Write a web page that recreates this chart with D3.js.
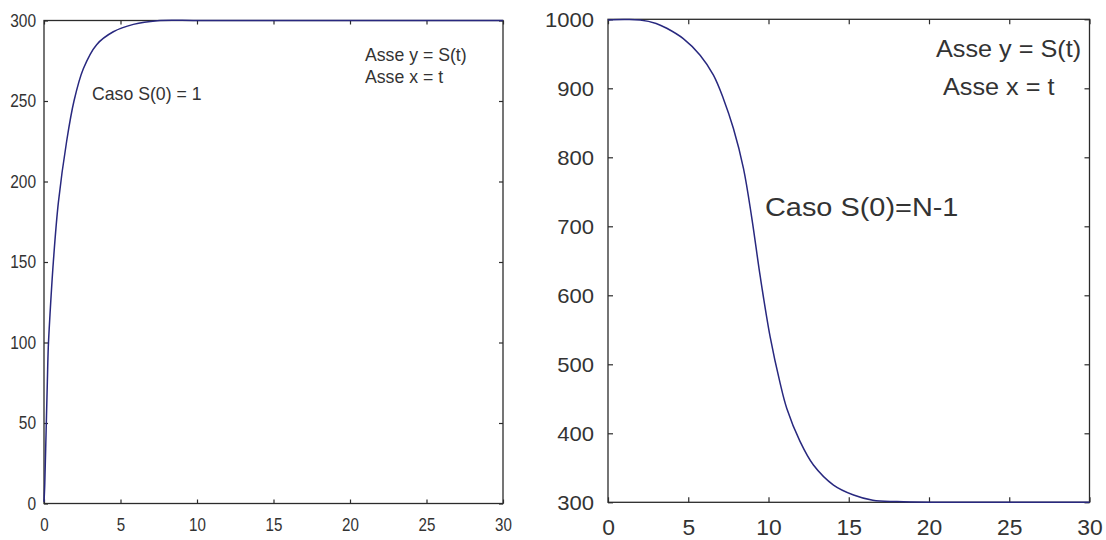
<!DOCTYPE html>
<html>
<head>
<meta charset="utf-8">
<script src="https://cdn.jsdelivr.net/npm/d3@7"></script>
<style>
  html, body { margin: 0; padding: 0; background: #fff; }
  svg { display: block; font-family: "Liberation Sans", Arial, Helvetica, sans-serif; }
  .axis path.domain { display: none; }
  .axis line { stroke: #2b2b2b; stroke-width: 1.2; }
  .axis text { fill: #333; }
</style>
</head>
<body>
<svg id="chart" width="1106" height="540"></svg>
<script>
// Time ticks shared by both panels
const xTicks = [0, 5, 10, 15, 20, 25, 30];

// Panel 1: S(t) with S(0) = 1
const tGrowth = [0, 0.05, 0.11, 0.22, 0.28, 0.39, 0.61, 0.94, 1.48, 1.96, 2.57, 3.44, 4.53, 5.84, 7.4, 10, 15, 20, 25, 30];
const sGrowth = [1, 12, 34, 76, 97, 117, 150, 187, 225, 250, 270, 285, 293, 297.6, 299.9, 300, 300, 300, 300, 300];
const yTicksGrowth = [0, 50, 100, 150, 200, 250, 300];

// Panel 2: S(t) with S(0) = N-1
const tDecay = [0, 1, 2, 3, 3.66, 4.69, 5.74, 6.57, 7.19, 7.81, 8.44, 8.96, 9.48, 10.1, 10.72, 11.14, 11.97, 12.8, 14.05, 15.3, 16.5, 18, 20, 25, 30];
const sDecay = [999, 999.6, 999, 994, 987, 972, 948, 919, 885, 842, 784, 712, 628, 540, 473, 436, 388, 354, 325, 310.6, 303, 301, 300, 300, 300];
const yTicksDecay = [300, 400, 500, 600, 700, 800, 900, 1000];

const svg = d3.select("#chart");

// Narrow or widen a text run horizontally by factor s
function stretch(sel, s) {
  if (s === 1) return;
  sel.each(function () {
    const w = this.getComputedTextLength();
    d3.select(this).attr("textLength", w * s).attr("lengthAdjust", "spacingAndGlyphs");
  });
}

function panel(cfg) {
  const x = d3.scaleLinear().domain([0, 30]).range([cfg.x0, cfg.x1]);
  const y = d3.scaleLinear().domain(cfg.yDomain).range([cfg.y1, cfg.y0]);
  const g = svg.append("g");
  const fmt = d3.format("d");

  const bottom = g.append("g").attr("class", "axis")
    .attr("transform", `translate(0,${cfg.y1})`)
    .call(d3.axisBottom(x).tickValues(xTicks).tickFormat(fmt)
      .tickSizeInner(-cfg.tick).tickSizeOuter(0).tickPadding(cfg.xPad));
  bottom.selectAll("text").style("font-size", cfg.xFont + "px");
  stretch(bottom.selectAll("text"), cfg.xSq);

  const left = g.append("g").attr("class", "axis")
    .attr("transform", `translate(${cfg.x0},0)`)
    .call(d3.axisLeft(y).tickValues(cfg.yTicks).tickFormat(fmt)
      .tickSizeInner(-cfg.tick).tickSizeOuter(0).tickPadding(cfg.yPad));
  left.selectAll("text").style("font-size", cfg.yFont + "px");
  stretch(left.selectAll("text"), cfg.ySq);

  g.append("g").attr("class", "axis")
    .attr("transform", `translate(0,${cfg.y0})`)
    .call(d3.axisTop(x).tickValues(xTicks).tickSizeInner(-cfg.tick).tickSizeOuter(0).tickFormat(""));
  g.append("g").attr("class", "axis")
    .attr("transform", `translate(${cfg.x1},0)`)
    .call(d3.axisRight(y).tickValues(cfg.yTicks).tickSizeInner(-cfg.tick).tickSizeOuter(0).tickFormat(""));

  // Box around the plot area
  g.append("rect")
    .attr("x", cfg.x0).attr("y", cfg.y0)
    .attr("width", cfg.x1 - cfg.x0).attr("height", cfg.y1 - cfg.y0)
    .attr("fill", "none").attr("stroke", "#2b2b2b").attr("stroke-width", 1.3);

  const pts = cfg.t.map((t, i) => [t, cfg.s[i]]);
  g.append("path")
    .datum(pts)
    .attr("fill", "none")
    .attr("stroke", "#28287f")
    .attr("stroke-width", 1.5)
    .attr("d", d3.line().x(d => x(d[0])).y(d => y(d[1])).curve(d3.curveCatmullRom.alpha(0.5)));

  cfg.labels.forEach(l => {
    const t = g.append("text")
      .attr("x", l.x).attr("y", l.y)
      .attr("fill", "#333")
      .style("font-size", l.size + "px")
      .text(l.text);
    stretch(t, l.sq);
  });
}

panel({
  x0: 44, x1: 503, y0: 20.5, y1: 503.5, tick: 4,
  yDomain: [0, 300], yTicks: yTicksGrowth,
  t: tGrowth, s: sGrowth,
  xFont: 18, yFont: 18, xPad: 15, yPad: 8,
  xSq: 0.84, ySq: 0.86,
  labels: [
    { text: "Caso S(0) = 1", x: 92, y: 100, size: 19, sq: 0.93 },
    { text: "Asse y = S(t)", x: 365, y: 60.5, size: 19, sq: 0.93 },
    { text: "Asse x = t", x: 365, y: 83, size: 19, sq: 0.93 }
  ]
});

panel({
  x0: 608, x1: 1089.5, y0: 19.3, y1: 502.3, tick: 5,
  yDomain: [300, 1000], yTicks: yTicksDecay,
  t: tDecay, s: sDecay,
  xFont: 22, yFont: 21, xPad: 17, yPad: 14,
  xSq: 1.04, ySq: 1.05,
  labels: [
    { text: "Asse y = S(t)", x: 936, y: 57, size: 24.5, sq: 1.03 },
    { text: "Asse x = t", x: 943, y: 95, size: 24.5, sq: 1.03 },
    { text: "Caso S(0)=N-1", x: 765, y: 216, size: 26.5, sq: 1.09 }
  ]
});
</script>
</body>
</html>
